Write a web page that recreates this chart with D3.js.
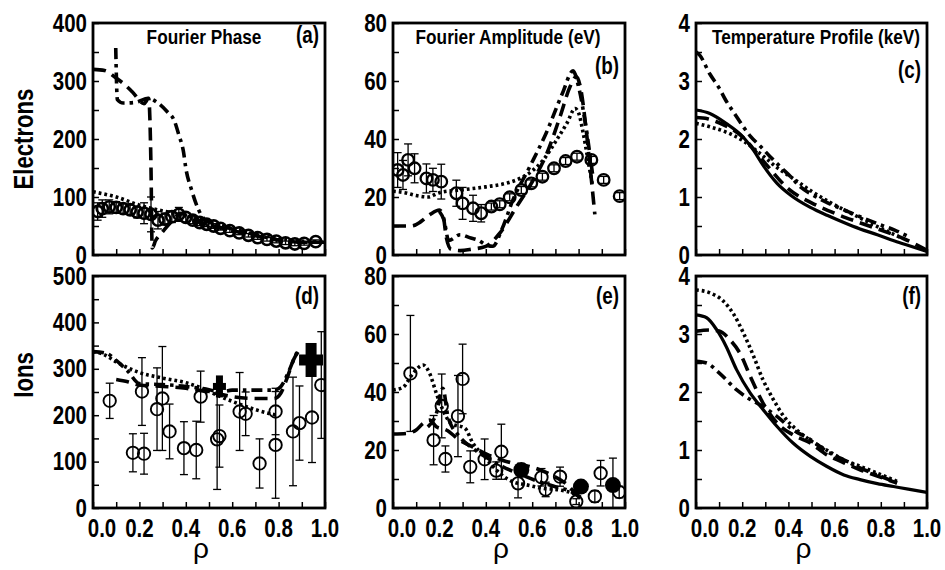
<!DOCTYPE html>
<html>
<head>
<meta charset="utf-8">
<script src="https://cdn.jsdelivr.net/npm/d3@7"></script>
<style>
  body { margin: 0; background: #fff; }
  text { font-family: "Liberation Sans", Arial, sans-serif; font-weight: bold; fill: #000; }
</style>
</head>
<body>
<svg id="fig" width="945" height="570"></svg>
<script>
// ---- tick values ----
const xTicks = [0, 0.2, 0.4, 0.6, 0.8, 1.0];
const yTicksPhaseE = [0, 100, 200, 300, 400];
const yTicksPhaseI = [0, 100, 200, 300, 400, 500];
const yTicksAmp = [0, 20, 40, 60, 80];
const yTicksTemp = [0, 1, 2, 3, 4];

// ---- (a) electron Fourier phase ----
const aObsRho = [0.02, 0.04, 0.07, 0.10, 0.13, 0.16, 0.19, 0.22, 0.25, 0.28, 0.31, 0.34, 0.37, 0.40, 0.43, 0.46, 0.49, 0.52, 0.55, 0.59, 0.63, 0.67, 0.71, 0.75, 0.79, 0.83, 0.87, 0.91, 0.96];
const aObsVal = [75, 80, 83, 82, 80, 78, 74, 72, 70, 60, 62, 66, 70, 65, 60, 56, 53, 50, 46, 42, 38, 34, 30, 27, 24, 21, 19, 20, 23];
const aObsErr = [15, 15, 12, 10, 8, 8, 10, 18, 30, 15, 10, 10, 12, 8, 6, 5, 4, 4, 3, 3, 3, 3, 3, 3, 3, 3, 3, 3, 3];
const aDashRho = [0, 0.05, 0.1, 0.13, 0.17, 0.22, 0.24, 0.25, 0.255, 0.27, 0.3, 0.34, 0.38, 0.42, 0.5, 0.6, 0.7, 0.8, 0.9, 1.0];
const aDashVal = [320, 318, 305, 296, 281, 261, 270, 150, 12, 25, 40, 58, 72, 62, 52, 42, 33, 26, 22, 22];
const aDashDotRho = [0.098, 0.105, 0.13, 0.18, 0.24, 0.28, 0.32, 0.35, 0.37, 0.39, 0.40, 0.425, 0.455, 0.48, 0.52, 0.6, 0.7, 0.8, 0.9, 1.0];
const aDashDotVal = [357, 268, 262, 263, 270, 262, 247, 232, 207, 178, 150, 112, 78, 62, 55, 45, 35, 26, 22, 22];
const aDotRho = [0, 0.1, 0.2, 0.3, 0.4, 0.5, 0.6, 0.7, 0.8, 0.9, 1.0];
const aDotVal = [109, 100, 86, 76, 68, 57, 46, 37, 29, 24, 22];

// ---- (b) electron Fourier amplitude ----
const bObsRho = [0.02, 0.043, 0.065, 0.093, 0.144, 0.172, 0.208, 0.273, 0.30, 0.345, 0.38, 0.424, 0.46, 0.503, 0.553, 0.596, 0.644, 0.694, 0.744, 0.793, 0.855, 0.908, 0.977];
const bObsVal = [29.3, 27.6, 32.8, 29.9, 26.4, 25.9, 25.3, 21.3, 17.8, 16.1, 14.4, 16.7, 17.5, 19.9, 22.4, 24.7, 27, 29.9, 32.4, 33.9, 32.8, 25.9, 20.3];
const bObsErr = [6, 5, 5.5, 5, 5, 4, 6, 4.5, 5.5, 4.5, 3, 1.2, 1.2, 1.2, 1.2, 1.2, 1.2, 1.2, 1.2, 1.2, 1.2, 1.2, 1.2];
const bDashRho = [0, 0.08, 0.12, 0.16, 0.2, 0.215, 0.23, 0.25, 0.29, 0.34, 0.40, 0.46, 0.533, 0.605, 0.663, 0.72, 0.763, 0.79, 0.81, 0.83, 0.85, 0.87];
const bDashVal = [10, 10, 11.5, 14, 15.5, 14, 6, 2, 1.5, 2, 3, 7.5, 16.7, 25.9, 35, 47.7, 58, 61.5, 57, 45, 30, 14];
const bDashDotRho = [0.2, 0.22, 0.24, 0.29, 0.33, 0.37, 0.40, 0.43, 0.47, 0.517, 0.59, 0.66, 0.73, 0.776, 0.80, 0.83, 0.86];
const bDashDotVal = [15, 12, 5, 7, 6, 5, 3.5, 3, 9, 19, 30.5, 42, 55.7, 63.5, 58, 45, 28];
const bDotRho = [0, 0.05, 0.1, 0.15, 0.2, 0.3, 0.4, 0.5, 0.55, 0.6, 0.65, 0.7, 0.75, 0.785, 0.8, 0.82, 0.84, 0.86];
const bDotVal = [22, 21.5, 20.5, 20, 21.5, 22.5, 23.5, 25, 26.5, 29, 33, 39, 45.5, 50.5, 49, 42, 33, 24];

// ---- (c) electron temperature ----
const cSolidRho = [0, 0.06, 0.13, 0.205, 0.25, 0.29, 0.35, 0.41, 0.495, 0.57, 0.64, 0.71, 0.785, 0.86, 0.93, 1.0];
const cSolidVal = [2.5, 2.44, 2.27, 2.03, 1.8, 1.55, 1.24, 1.03, 0.82, 0.68, 0.56, 0.45, 0.35, 0.24, 0.15, 0.06];
const cDashRho = [0, 0.05, 0.1, 0.2, 0.3, 0.4, 0.5, 0.6, 0.7, 0.8, 0.9, 1.0];
const cDashVal = [2.37, 2.35, 2.28, 2.04, 1.58, 1.14, 0.9, 0.72, 0.57, 0.43, 0.28, 0.08];
const cDotRho = [0, 0.06, 0.13, 0.2, 0.28, 0.35, 0.42, 0.5, 0.57, 0.64, 0.71, 0.785, 0.86, 0.9];
const cDotVal = [2.27, 2.21, 2.12, 1.98, 1.74, 1.51, 1.32, 1.1, 0.93, 0.78, 0.64, 0.49, 0.35, 0.28];
const cDashDotRho = [0, 0.015, 0.06, 0.1, 0.13, 0.17, 0.205, 0.235, 0.28, 0.32, 0.365, 0.41, 0.45, 0.495, 0.57, 0.64, 0.71, 0.785, 0.86, 0.93];
const cDashDotVal = [3.5, 3.45, 3.12, 2.88, 2.66, 2.42, 2.21, 2.05, 1.87, 1.7, 1.52, 1.35, 1.18, 1.06, 0.9, 0.78, 0.66, 0.54, 0.43, 0.3];

// ---- (d) ion Fourier phase ----
const dObsRho = [0.072, 0.172, 0.211, 0.22, 0.276, 0.299, 0.33, 0.392, 0.445, 0.464, 0.535, 0.545, 0.632, 0.658, 0.718, 0.787, 0.787, 0.862, 0.89, 0.944, 0.984];
const dObsVal = [231, 119, 251, 117, 213, 236, 165, 129, 125, 240, 148, 155, 208, 203, 96, 208, 136, 165, 183, 195, 265];
const dObsErr = [38, 41, 73, 44, 89, 112, 59, 57, 62, 55, 108, 67, 84, 47, 53, 50, 115, 117, 80, 97, 115];
const dPlusRho = [0.545, 0.94];
const dPlusVal = [262, 319];
const dDashRho = [0.1, 0.15, 0.2, 0.3, 0.4, 0.5, 0.55, 0.6, 0.7, 0.78, 0.81, 0.84, 0.865, 0.885];
const dDashVal = [277, 272, 265, 262, 258, 250, 245, 240, 236, 236, 248, 285, 320, 337];
const dDashDotRho = [0, 0.06, 0.1, 0.15, 0.2, 0.3, 0.4, 0.5, 0.55, 0.6, 0.7, 0.78, 0.81, 0.84, 0.865, 0.88];
const dDashDotVal = [337, 333, 318, 295, 268, 266, 262, 255, 250, 254, 254, 254, 262, 290, 320, 337];
const dDotRho = [0, 0.05, 0.1, 0.15, 0.2, 0.3, 0.4, 0.47, 0.55, 0.62, 0.7, 0.79];
const dDotVal = [337, 330, 315, 302, 292, 280, 270, 258, 240, 226, 212, 200];

// ---- (e) ion Fourier amplitude ----
const eObsRho = [0.075, 0.175, 0.21, 0.226, 0.28, 0.30, 0.333, 0.395, 0.445, 0.467, 0.539, 0.64, 0.658, 0.72, 0.79, 0.87, 0.895, 0.975];
const eObsVal = [46.4, 23.4, 35.2, 16.9, 31.7, 44.5, 14.2, 16.8, 12.9, 19.4, 8.5, 10.6, 6.4, 10.8, 2.2, 4.0, 12, 5.5];
const eObsErr = [20, 8.5, 11, 4.5, 14, 12, 5.5, 7, 3, 9.5, 5, 3, 2.5, 3.3, 1, 2, 4.4, 2];
const eFillRho = [0.553, 0.81, 0.948];
const eFillVal = [13.1, 7.4, 7.9];
const eFillErr = [0, 0, 9.3];
const eDashRho = [0, 0.057, 0.1, 0.13, 0.158, 0.187, 0.23, 0.287, 0.345, 0.4, 0.474, 0.53, 0.6, 0.675, 0.747, 0.79, 0.82];
const eDashVal = [25.5, 25.7, 26.9, 29.2, 30.3, 28, 26.9, 23.4, 21, 18.7, 16.4, 15.2, 14.1, 11.7, 8.3, 4.8, 3];
const eDashDotRho = [0.15, 0.187, 0.215, 0.237, 0.287, 0.345, 0.4, 0.474, 0.546, 0.618, 0.69, 0.76, 0.82];
const eDashDotVal = [28, 32.6, 41.3, 31.5, 24.6, 20.5, 17.6, 14.2, 11.7, 9.4, 7.6, 5.9, 3];
const eDotRho = [0, 0.043, 0.086, 0.13, 0.158, 0.187, 0.215, 0.25, 0.31, 0.345, 0.395, 0.46, 0.517, 0.575, 0.646, 0.72, 0.776, 0.8];
const eDotVal = [40.7, 41.6, 46.4, 49.3, 46.4, 39.5, 33.8, 29.2, 27.5, 22.3, 17.7, 12, 9, 8, 6.8, 6.2, 5, 4];

// ---- (f) ion temperature ----
const fSolidRho = [0, 0.046, 0.09, 0.13, 0.175, 0.235, 0.29, 0.35, 0.42, 0.495, 0.565, 0.64, 0.71, 0.785, 0.855, 0.925, 1.0];
const fSolidVal = [3.33, 3.28, 3.07, 2.79, 2.39, 1.98, 1.7, 1.41, 1.12, 0.89, 0.72, 0.57, 0.49, 0.42, 0.37, 0.32, 0.27];
const fDashRho = [0, 0.06, 0.1, 0.147, 0.19, 0.235, 0.29, 0.35, 0.42, 0.495, 0.565, 0.64, 0.71, 0.785, 0.87];
const fDashVal = [3.05, 3.07, 3.05, 2.9, 2.67, 2.27, 1.81, 1.47, 1.26, 1.12, 0.92, 0.78, 0.66, 0.55, 0.43];
const fDotRho = [0, 0.06, 0.12, 0.16, 0.205, 0.25, 0.29, 0.335, 0.38, 0.435, 0.49, 0.565, 0.64, 0.71, 0.785, 0.87];
const fDotVal = [3.76, 3.71, 3.56, 3.36, 3.02, 2.61, 2.21, 1.87, 1.58, 1.35, 1.18, 1.0, 0.83, 0.72, 0.6, 0.46];
const fDashDotRho = [0, 0.046, 0.1, 0.175, 0.235, 0.29, 0.35, 0.42, 0.495, 0.565, 0.64, 0.71, 0.785, 0.87];
const fDashDotVal = [2.53, 2.5, 2.33, 2.04, 1.87, 1.75, 1.58, 1.35, 1.18, 0.98, 0.83, 0.69, 0.57, 0.43];

// ---- styles ----
const LINE_STYLE = {
  solid:   { dash: null, w: 3.2 },
  dashed:  { dash: "13,7", w: 3.6 },
  dotted:  { dash: "2.8,3", w: 3.6 },
  dashdot: { dash: "11,5,3.5,5", w: 3.6 },
};
const PLUS_SIZE = [{ w: 13, h: 22, t: 7 }, { w: 24, h: 34, t: 11 }];
const NARROW = 0.82; // Arial Narrow look from Liberation Sans

const colsX = [[93, 325], [393, 625], [696, 927]];
const rowsY = [[23, 255], [276, 508]];

const zip = (xs, ys) => xs.map((x, i) => ({ x: x, y: ys[i] }));
const zip3 = (xs, ys, es) => xs.map((x, i) => ({ x: x, y: ys[i], e: es[i] }));

// condensed bold text placed at (x, y)
const label = (parent, x, y, str, size, anchor, rot) => {
  return parent.append("g")
    .attr("transform", "translate(" + x + "," + y + ")" + (rot ? " rotate(" + rot + ")" : "") + " scale(" + NARROW + ",1)")
    .append("text").attr("text-anchor", anchor).style("font-size", size + "px").text(str);
};

const panels = [
  { col: 0, row: 0, yTicks: yTicksPhaseE, letter: "(a)", title: "Fourier Phase", titleX: 204, letterY: 43,
    lines: [["dashed", zip(aDashRho, aDashVal)], ["dashdot", zip(aDashDotRho, aDashDotVal)], ["dotted", zip(aDotRho, aDotVal)]],
    obs: zip3(aObsRho, aObsVal, aObsErr), r: 5.6, sw: 2.6 },
  { col: 1, row: 0, yTicks: yTicksAmp, letter: "(b)", title: "Fourier Amplitude (eV)", titleX: 508, letterY: 74,
    lines: [["dashed", zip(bDashRho, bDashVal)], ["dashdot", zip(bDashDotRho, bDashDotVal)], ["dotted", zip(bDotRho, bDotVal)]],
    obs: zip3(bObsRho, bObsVal, bObsErr), r: 5.8, sw: 2.3 },
  { col: 2, row: 0, yTicks: yTicksTemp, letter: "(c)", title: "Temperature Profile (keV)", titleX: 816, letterY: 78,
    lines: [["solid", zip(cSolidRho, cSolidVal)], ["dashed", zip(cDashRho, cDashVal)], ["dotted", zip(cDotRho, cDotVal)], ["dashdot", zip(cDashDotRho, cDashDotVal)]] },
  { col: 0, row: 1, yTicks: yTicksPhaseI, letter: "(d)", letterY: 304,
    lines: [["dashed", zip(dDashRho, dDashVal)], ["dashdot", zip(dDashDotRho, dDashDotVal)], ["dotted", zip(dDotRho, dDotVal)]],
    obs: zip3(dObsRho, dObsVal, dObsErr), r: 6.2, sw: 1.9, plus: zip(dPlusRho, dPlusVal) },
  { col: 1, row: 1, yTicks: yTicksAmp, letter: "(e)", letterY: 304,
    lines: [["dashed", zip(eDashRho, eDashVal)], ["dashdot", zip(eDashDotRho, eDashDotVal)], ["dotted", zip(eDotRho, eDotVal)]],
    obs: zip3(eObsRho, eObsVal, eObsErr), r: 6.2, sw: 1.9, filled: zip3(eFillRho, eFillVal, eFillErr) },
  { col: 2, row: 1, yTicks: yTicksTemp, letter: "(f)", letterY: 304,
    lines: [["solid", zip(fSolidRho, fSolidVal)], ["dashed", zip(fDashRho, fDashVal)], ["dotted", zip(fDotRho, fDotVal)], ["dashdot", zip(fDashDotRho, fDashDotVal)]] },
];

const svg = d3.select("#fig");

panels.forEach((p) => {
  const [x0, x1] = colsX[p.col];
  const [y0, y1] = rowsY[p.row];
  const ymax = p.yTicks[p.yTicks.length - 1];
  const step = p.yTicks[1] - p.yTicks[0];
  const x = d3.scaleLinear().domain([0, 1]).range([x0, x1]);
  const y = d3.scaleLinear().domain([0, ymax]).range([y1, y0]);
  const g = svg.append("g");

  const clipId = "clip" + p.col + p.row;
  g.append("clipPath").attr("id", clipId)
    .append("rect").attr("x", x0).attr("y", y0).attr("width", x1 - x0).attr("height", y1 - y0);
  const plot = g.append("g").attr("clip-path", "url(#" + clipId + ")");

  // inward ticks, every half step on y and every 0.1 on x
  const xAxis = d3.axisTop(x).tickValues(d3.range(0, 1.001, 0.1)).tickSize(6).tickFormat("");
  const yAxis = d3.axisRight(y).tickValues(d3.range(0, ymax + 1e-9, step / 2)).tickSize(6).tickFormat("");
  g.append("g").attr("transform", "translate(0," + y1 + ")").call(xAxis)
    .call((s) => s.select(".domain").remove())
    .selectAll("line").attr("stroke", "#000").attr("stroke-width", 1.5);
  g.append("g").attr("transform", "translate(" + x0 + ",0)").call(yAxis)
    .call((s) => s.select(".domain").remove())
    .selectAll("line").attr("stroke", "#000").attr("stroke-width", 1.5);

  // y tick labels
  p.yTicks.forEach((d) => label(g, x0 - 6, y(d) + 8.5, d, 25, "end"));

  // x tick labels on lower row
  if (p.row === 1) {
    xTicks.forEach((d) => label(g, x(d) + (d === 0 ? 9 : 0), 537, d.toFixed(1), 25, "middle"));
    g.append("text").attr("x", (x0 + x1) / 2 - 8).attr("y", 558)
      .attr("text-anchor", "middle").style("font-size", "28px").style("font-weight", "normal")
      .text("ρ");
  }

  // model curves
  const line = d3.line().x((d) => x(d.x)).y((d) => y(d.y)).curve(d3.curveMonotoneX);
  p.lines.forEach(([kind, pts]) => {
    const st = LINE_STYLE[kind];
    plot.append("path").datum(pts).attr("d", line)
      .attr("fill", "none").attr("stroke", "#000")
      .attr("stroke-width", st.w).attr("stroke-dasharray", st.dash);
  });

  // measured points with error bars
  if (p.obs) {
    const cap = 4;
    const eb = plot.selectAll(".eb").data(p.obs).enter().append("g").attr("stroke", "#000").attr("stroke-width", 1.3);
    eb.append("line").attr("x1", (d) => x(d.x)).attr("x2", (d) => x(d.x))
      .attr("y1", (d) => y(d.y - d.e)).attr("y2", (d) => y(d.y + d.e));
    eb.append("line").attr("x1", (d) => x(d.x) - cap).attr("x2", (d) => x(d.x) + cap)
      .attr("y1", (d) => y(d.y - d.e)).attr("y2", (d) => y(d.y - d.e));
    eb.append("line").attr("x1", (d) => x(d.x) - cap).attr("x2", (d) => x(d.x) + cap)
      .attr("y1", (d) => y(d.y + d.e)).attr("y2", (d) => y(d.y + d.e));
    plot.selectAll(".pt").data(p.obs).enter().append("circle")
      .attr("cx", (d) => x(d.x)).attr("cy", (d) => y(d.y)).attr("r", p.r)
      .attr("fill", "none").attr("stroke", "#000").attr("stroke-width", p.sw);
  }

  if (p.filled) {
    const fb = plot.selectAll(".fb").data(p.filled.filter((d) => d.e > 0)).enter().append("g")
      .attr("stroke", "#000").attr("stroke-width", 1.3);
    fb.append("line").attr("x1", (d) => x(d.x)).attr("x2", (d) => x(d.x))
      .attr("y1", (d) => y(d.y - d.e)).attr("y2", (d) => y(d.y + d.e));
    fb.append("line").attr("x1", (d) => x(d.x) - 4).attr("x2", (d) => x(d.x) + 4)
      .attr("y1", (d) => y(d.y + d.e)).attr("y2", (d) => y(d.y + d.e));
    plot.selectAll(".fp").data(p.filled).enter().append("circle")
      .attr("cx", (d) => x(d.x)).attr("cy", (d) => y(d.y)).attr("r", 8).attr("fill", "#000");
  }

  if (p.plus) {
    const pg = plot.selectAll(".plus").data(p.plus).enter().append("g");
    pg.append("rect")
      .attr("x", (d, i) => x(d.x) - PLUS_SIZE[i].t / 2).attr("y", (d, i) => y(d.y) - PLUS_SIZE[i].h / 2)
      .attr("width", (d, i) => PLUS_SIZE[i].t).attr("height", (d, i) => PLUS_SIZE[i].h).attr("fill", "#000");
    pg.append("rect")
      .attr("x", (d, i) => x(d.x) - PLUS_SIZE[i].w / 2).attr("y", (d, i) => y(d.y) - PLUS_SIZE[i].t / 2)
      .attr("width", (d, i) => PLUS_SIZE[i].w).attr("height", (d, i) => PLUS_SIZE[i].t).attr("fill", "#000");
  }

  // frame
  g.append("rect").attr("x", x0).attr("y", y0).attr("width", x1 - x0).attr("height", y1 - y0)
    .attr("fill", "none").attr("stroke", "#000").attr("stroke-width", 2.8);

  if (p.title) label(g, p.titleX, 44, p.title, 21, "middle");
  label(g, x1 - 6, p.letterY, p.letter, 23, "end");
});

// row labels
label(svg, 33, 139, "Electrons", 27, "middle", -90);
label(svg, 33, 375, "Ions", 27, "middle", -90);
</script>
</body>
</html>
